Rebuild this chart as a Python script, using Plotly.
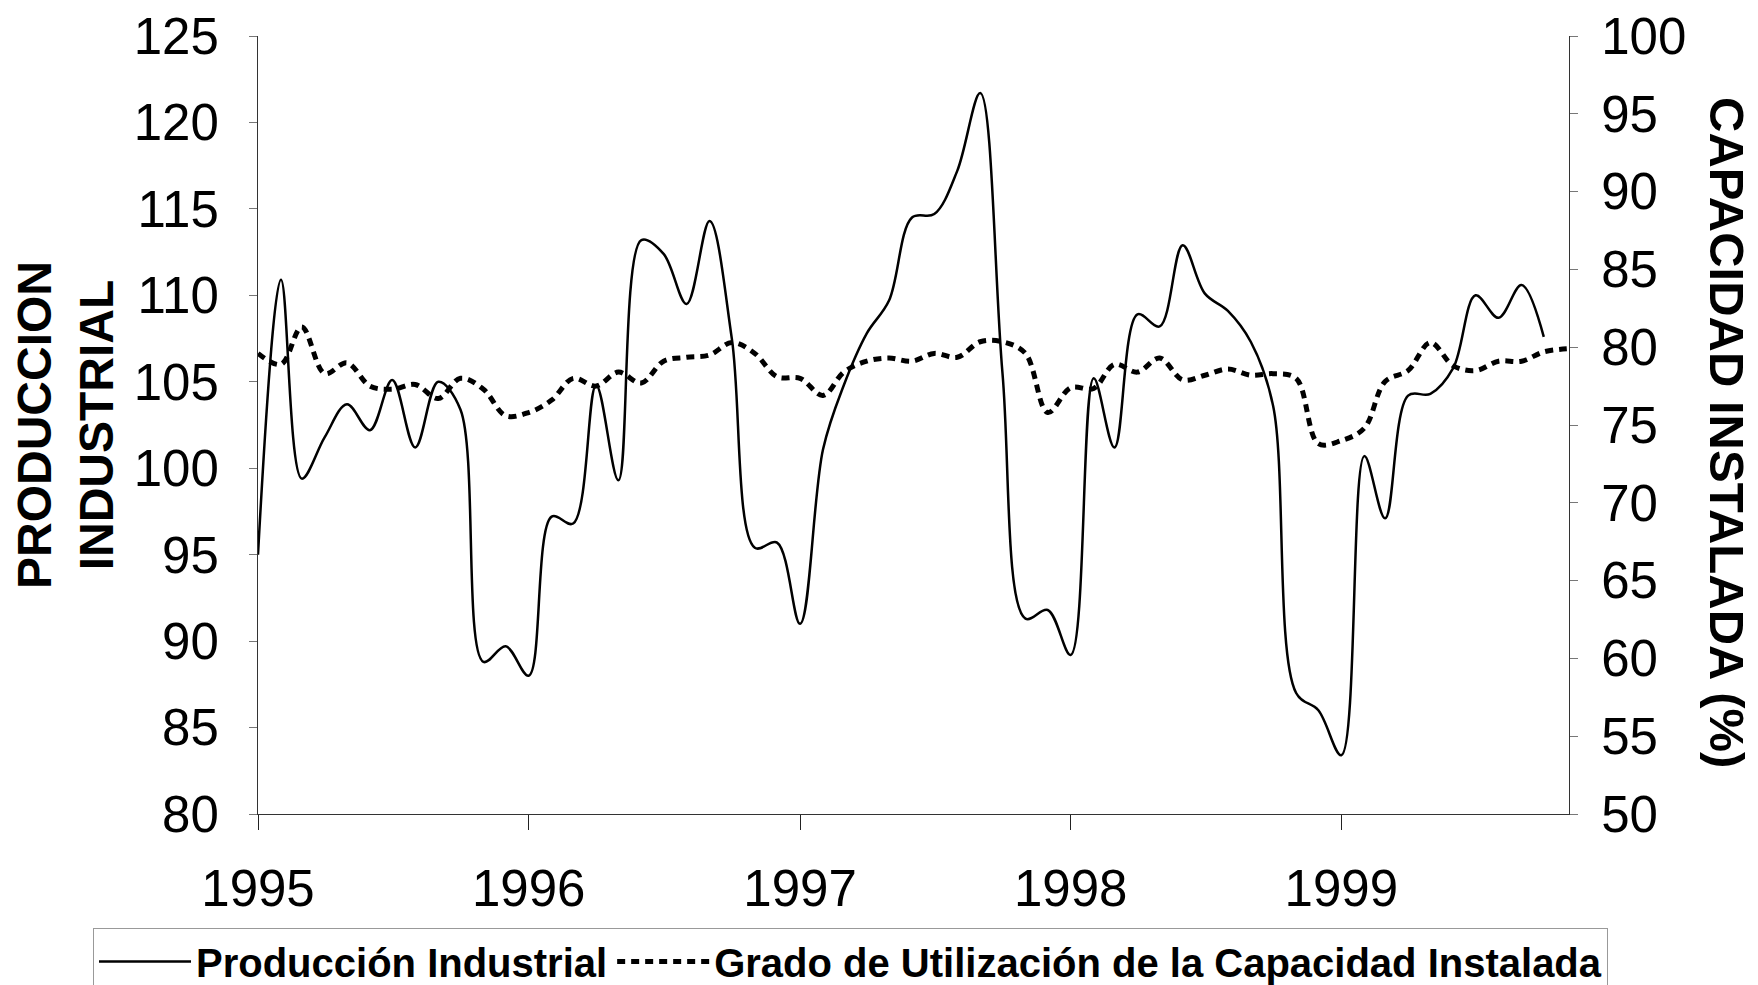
import plotly.graph_objects as go
import pandas as pd

# ---- data (monthly, Jan 1995 onward) ----
meses = pd.date_range("1995-01-01", "1999-11-01", freq="MS")

produccion_industrial = [
    95.0, 110.9, 99.4, 101.8, 103.7, 102.2, 105.1, 101.2, 105.0, 103.4, 88.8, 89.7,   # 1995
    88.0, 97.2, 96.8, 104.8, 99.3, 113.2, 112.4, 109.5, 114.3, 107.5, 95.4, 95.7,     # 1996
    91.0, 101.1, 104.8, 107.8, 109.7, 114.5, 114.7, 117.2, 121.7, 105.5, 91.3, 91.8,  # 1997
    89.2, 105.2, 101.2, 108.9, 108.2, 112.9, 110.1, 109.1, 107.3, 103.6, 87.0, 86.0,  # 1998
    83.4, 100.7, 97.1, 104.2, 104.3, 105.8, 110.0, 108.7, 110.6, 107.6,               # 1999
]

capacidad_instalada = [
    79.6, 78.9, 81.3, 78.3, 79.0, 77.5, 77.3, 77.6, 76.7, 78.0, 77.3, 75.6,   # 1995
    75.8, 76.6, 78.0, 77.5, 78.4, 77.7, 79.1, 79.35, 79.5, 80.3, 79.6, 78.1,  # 1996
    78.0, 76.9, 78.4, 79.1, 79.3, 79.1, 79.6, 79.35, 80.35, 80.35, 79.6, 75.8,  # 1997
    77.4, 77.35, 78.9, 78.4, 79.3, 77.9, 78.2, 78.6, 78.2, 78.3, 78.0, 73.8,  # 1998
    74.0, 74.8, 77.8, 78.5, 80.3, 78.8, 78.5, 79.1, 79.1, 79.7, 79.9,         # 1999
]

year_ticks = ["1995-01-01", "1996-01-01", "1997-01-01", "1998-01-01", "1999-01-01"]
year_labels = ["1995", "1996", "1997", "1998", "1999"]

name_prod = "Producción Industrial"
name_cap = "Grado de Utilización de la Capacidad Instalada"

W, H = 1758, 985
L, R, T, B = 258, 1569, 36, 814

fig = go.Figure()
fig.add_trace(go.Scatter(
    x=meses[:len(produccion_industrial)], y=produccion_industrial,
    mode="lines", name=name_prod,
    line=dict(color="black", width=2.5, shape="spline", smoothing=1.0),
    yaxis="y",
))
fig.add_trace(go.Scatter(
    x=meses[:len(capacidad_instalada)], y=capacidad_instalada,
    mode="lines", name=name_cap,
    line=dict(color="black", width=5, dash="8px,6px", shape="spline", smoothing=1.0),
    yaxis="y2",
))

tick_font = dict(family="Liberation Sans, Arial, sans-serif", size=51, color="black")
title_font = dict(family="Liberation Sans, Arial, sans-serif", size=48, color="black")

fig.update_layout(
    width=W, height=H,
    margin=dict(l=L, r=W - R, t=T, b=H - B, autoexpand=False),
    paper_bgcolor="white", plot_bgcolor="white",
    showlegend=True,
    xaxis=dict(
        type="date",
        range=["1995-01-01", "1999-11-04"],
        tickvals=year_ticks, ticktext=year_labels,
        tickfont=tick_font,
        ticks="outside", ticklen=15, tickcolor="#222", tickwidth=1,
        ticklabelstandoff=15,
        showline=True, linecolor="#333", linewidth=1,
        showgrid=False, zeroline=False,
    ),
    yaxis=dict(
        range=[80, 125], dtick=5, tick0=80,
        tickfont=tick_font,
        ticks="outside", ticklen=8, tickcolor="#777", tickwidth=1,
        ticklabelstandoff=20,
        showline=True, linecolor="#333", linewidth=1,
        showgrid=False, zeroline=False,
        title=dict(text="<b>PRODUCCION<br>INDUSTRIAL</b>", font=title_font, standoff=4),
    ),
    yaxis2=dict(
        range=[50, 100], dtick=5, tick0=50,
        overlaying="y", side="right",
        tickfont=tick_font,
        ticks="outside", ticklen=8, tickcolor="#777", tickwidth=1,
        ticklabelstandoff=13,
        showline=True, linecolor="#333", linewidth=1,
        showgrid=False, zeroline=False,
    ),
    legend=dict(
        orientation="h",
        x=(93 - L) / (R - L), xanchor="left",
        y=(B - 928) / (B - T), yanchor="top",
        font=dict(family="Liberation Sans, Arial, sans-serif", size=40, color="black", weight="bold"),
        bgcolor="white", bordercolor="#999", borderwidth=1,
        itemwidth=92,
        traceorder="normal",
    ),
    annotations=[dict(
        text="<b>CAPACIDAD INSTALADA (%)</b>",
        xref="paper", yref="paper",
        x=(1727 - L) / (R - L), y=(B - 432) / (B - T),
        xanchor="center", yanchor="middle",
        textangle=90, showarrow=False,
        font=dict(family="Liberation Sans, Arial, sans-serif", size=49, color="black"),
    )],
)

fig.write_html("out.html", config={"displayModeBar": False},
               post_script="document.body.style.margin='0';")
